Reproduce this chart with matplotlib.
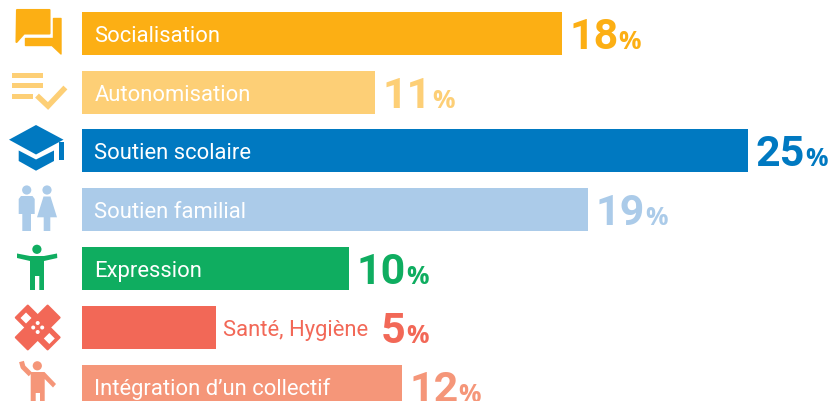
import matplotlib
matplotlib.use("Agg")
import matplotlib.pyplot as plt
from matplotlib.patches import Polygon, Circle, Rectangle
from matplotlib.transforms import Affine2D

plt.rcParams['font.family'] = ['Roboto', 'DejaVu Sans']

categories = ['Socialisation', 'Autonomisation', 'Soutien scolaire', 'Soutien familial',
              'Expression', 'Santé, Hygiène', 'Intégration d’un collectif']
values = [18, 11, 25, 19, 10, 5, 12]
widths = [18.0, 11.0, 25.0, 19.0, 10.03, 5.03, 12.0]
colors = ['#FCAF14', '#FDCF76', '#0079C1', '#ABCBE9', '#0FAD60', '#F26857', '#F59679']
label_colors = ['white', 'white', 'white', 'white', 'white', '#F26857', 'white']

W, H = 837, 402
PX_PER_PCT = 26.65
ROW = 58.85
TOP = 34.2
PT = 0.72  # points per pixel at dpi 100

fig = plt.figure(figsize=(W / 100, H / 100), dpi=100)
ax = fig.add_axes([0, 0, 1, 1])
ax.set_xlim(-82 / PX_PER_PCT, (W - 82) / PX_PER_PCT)
ax.set_ylim((H - TOP) / ROW, -TOP / ROW)
ax.axis('off')

ax.barh(range(len(values)), widths, height=43 / ROW, color=colors, linewidth=0)

# bar labels and the big percentages
for i, (cat, val, w) in enumerate(zip(categories, values, widths)):
    if cat.startswith('Santé'):
        lx, num_off = w * PX_PER_PCT + 6.5, 165
    else:
        lx, num_off = 12.5, 7.5
    ax.annotate(cat, xy=(0, i), xytext=(lx * PT, -7.5 * PT), textcoords='offset points',
                color=label_colors[i], fontsize=15.8, va='baseline', ha='left')
    num = ax.annotate(str(val), xy=(w, i), xytext=(num_off * PT, -14.5 * PT), textcoords='offset points',
                      color=colors[i], fontsize=31, fontweight='bold', va='baseline', ha='left')
    ax.annotate('%', xy=(1, i), xycoords=(num, 'data'), xytext=(0 * PT, -14.5 * PT),
                textcoords='offset points', color=colors[i], fontsize=18, fontweight='bold',
                family=['Open Sans', 'DejaVu Sans'], va='baseline', ha='left')

# icons, drawn in image pixels
ic = fig.add_axes([0, 0, 1, 1])
ic.set_xlim(0, W)
ic.set_ylim(H, 0)
ic.axis('off')
ic.patch.set_alpha(0)


def poly(pts, c, **kw):
    kw.setdefault('lw', 0)
    ic.add_patch(Polygon(pts, closed=True, facecolor=c, edgecolor=c, joinstyle='round', **kw))


def head(x, y, c, r=4.6):
    ic.add_patch(Circle((x, y), r, color=c, lw=0))


# speech bubbles
c = colors[0]
poly([(17, 11), (49.5, 11), (49.5, 34.5), (24, 34.5), (16.5, 43)], c, lw=1.5)
poly([(53.5, 19.5), (61, 19.5), (61, 55), (52, 46.5), (25.5, 46.5), (25.5, 39.5), (53.5, 39.5)], c, lw=1)

# list with a check mark
c = colors[1]
for y0, x1 in [(74, 43), (84, 43), (94.5, 33)]:
    ic.add_patch(Rectangle((12.5, y0), x1 - 12.5, 5, color=c, lw=0))
ic.plot([39, 48, 63.5], [98.5, 107, 90.5], color=c, lw=5.5 * PT, solid_joinstyle='miter')

# mortarboard
c = colors[2]
poly([(36, 126), (63.5, 140.7), (36, 155.5), (9, 140.7)], c)
poly([(18.7, 151.5), (36, 160.5), (54, 151.5), (54, 162), (36, 171.7), (18.7, 162)], c)
ic.add_patch(Rectangle((59, 143), 4.7, 18, color=c, lw=0))

# man and woman
c = colors[3]
head(26.7, 191, c)
poly([(18.7, 200), (21, 197), (32.5, 197), (34.7, 200), (34.7, 215), (31, 215), (31, 232),
      (22.3, 232), (22.3, 215), (18.7, 215)], c)
head(47, 191, c)
poly([(43.5, 197.5), (50.5, 197.5), (57, 218.3), (50.3, 218.3), (50.3, 232), (43.7, 232),
      (43.7, 218.3), (37, 218.3)], c)

# person with open arms
c = colors[4]
head(36.9, 250.3, c)
poly([(17, 254.5), (30, 257), (44, 257), (57, 254.5), (57.3, 259), (44, 262), (44, 291),
      (39.3, 291), (39.3, 277), (35, 277), (35, 291), (30, 291), (30, 262), (17, 259)], c)

# bandage
c = colors[5]
for ang in (45, -45):
    tr = Affine2D().rotate_deg_around(37.7, 328.5, ang) + ic.transData
    ic.add_patch(Rectangle((37.7 - 22.5, 328.5 - 8.5), 45, 17, facecolor=c, edgecolor=c, lw=1.5,
                           joinstyle='round', transform=tr))
for hx, hy in [(26, 319), (49.3, 339.5)]:
    poly([(hx, hy - 5.5), (hx + 5.5, hy), (hx, hy + 5.5), (hx - 5.5, hy)], 'white')
for dx, dy in [(0, -4.5), (-4.5, 0), (4.5, 0), (0, 4.5)]:
    ic.add_patch(Circle((37.7 + dx, 328.5 + dy), 2, color='white', lw=0))

# person waving
c = colors[6]
head(37.3, 366.8, c)
ic.plot([21.5, 23, 30.5], [362.5, 368, 375.5], color=c, lw=5 * PT, solid_capstyle='butt')
poly([(30.7, 373), (44.5, 373), (56, 385), (53, 388.5), (44.7, 380), (44.7, 402), (40, 402),
      (40, 394), (35.7, 394), (35.7, 402), (30.7, 402)], c)

fig.savefig('out.png', dpi=100)
